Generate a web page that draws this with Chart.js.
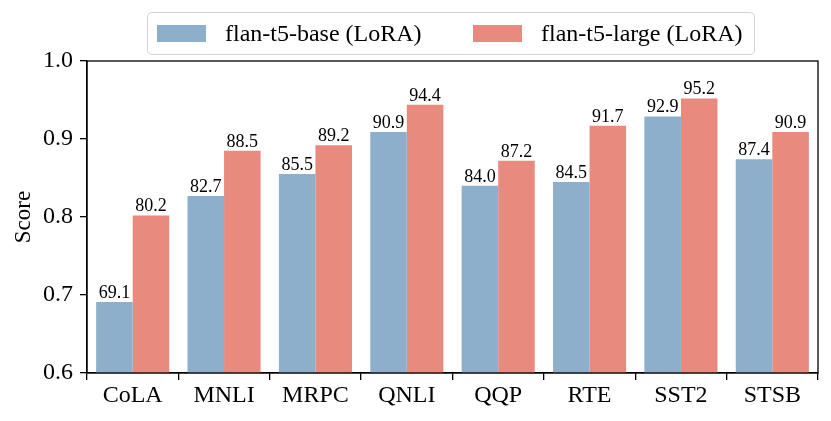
<!DOCTYPE html>
<html><head><meta charset="utf-8">
<script src="https://cdn.jsdelivr.net/npm/chart.js@4/dist/chart.umd.min.js"></script>
<style>
html,body{margin:0;padding:0;background:#fff;}
#wrap{position:relative;width:831px;height:421px;}
#legend{position:absolute;left:147px;top:12px;width:608px;height:43px;border:1.5px solid #d5d5d5;border-radius:5px;box-sizing:border-box;font-family:"Liberation Serif","Times New Roman",serif;font-size:24px;color:#000;}
.item{position:absolute;top:0;height:100%;display:flex;align-items:center;}
.sw{width:49px;height:17px;margin-right:19px;}
</style></head>
<body><div id="wrap"><canvas id="c" width="831" height="421"></canvas>
<div id="legend"></div></div>
<script>
const categories = ["CoLA","MNLI","MRPC","QNLI","QQP","RTE","SST2","STSB"];
const seriesNames = ["flan-t5-base (LoRA)","flan-t5-large (LoRA)"];
const baseScores = [69.1,82.7,85.5,90.9,84.0,84.5,92.9,87.4];
const largeScores = [80.2,88.5,89.2,94.4,87.2,91.7,95.2,90.9];
const yTicks = [0.6,0.7,0.8,0.9,1.0];
const colors = ["#8EAFCB","#E88A7E"];
const FONT = "'Liberation Serif','Times New Roman',serif";

// legend (HTML)
const lg = document.getElementById('legend');
const lpos = [9, 325];
seriesNames.forEach((n,i)=>{
  const d=document.createElement('div');d.className='item';d.style.left=lpos[i]+'px';
  const s=document.createElement('div');s.className='sw';s.style.background=colors[i];
  const t=document.createElement('span');t.textContent=n;
  d.appendChild(s);d.appendChild(t);lg.appendChild(d);
});

const frame = {id:'frame',afterDraw(ch){
  const a=ch.chartArea,c=ch.ctx;c.save();c.strokeStyle='#000';c.lineWidth=1.3;
  c.strokeRect(a.left,a.top,a.right-a.left,a.bottom-a.top);c.restore();
}};
const labels = {id:'labels',afterDatasetsDraw(ch){
  const c=ch.ctx;c.save();c.font="18px "+FONT;c.fillStyle='#000';c.textAlign='center';c.textBaseline='alphabetic';
  ch.data.datasets.forEach((ds,i)=>{
    ch.getDatasetMeta(i).data.forEach((el,j)=>{
      c.fillText(ds.raw[j].toFixed(1), el.x, el.y-4);
    });
  });
  c.restore();
}};

new Chart(document.getElementById('c'),{
  type:'bar',
  data:{labels:categories,datasets:[
    {label:seriesNames[0],raw:baseScores,data:baseScores.map(v=>v/100),backgroundColor:colors[0],categoryPercentage:0.8,barPercentage:1.0},
    {label:seriesNames[1],raw:largeScores,data:largeScores.map(v=>v/100),backgroundColor:colors[1],categoryPercentage:0.8,barPercentage:1.0}
  ]},
  options:{
    responsive:false,animation:false,
    layout:{padding:{left:0,right:13,top:61,bottom:0}},
    plugins:{legend:{display:false},tooltip:{enabled:false}},
    scales:{
      x:{
        grid:{display:true,drawOnChartArea:false,drawTicks:true,tickLength:7,color:'#000',lineWidth:1.3},
        border:{display:true,color:'#000',width:1.3},
        ticks:{font:{family:FONT,size:24},color:'#000',padding:1,maxRotation:0},
        afterFit(s){s.height=48;}
      },
      y:{
        min:0.6,max:1.0,
        afterBuildTicks(s){s.ticks=yTicks.map(v=>({value:v}));},
        grid:{display:true,drawOnChartArea:false,drawTicks:true,tickLength:7,color:'#000',lineWidth:1.3},
        border:{display:true,color:'#000',width:1.3},
        ticks:{font:{family:FONT,size:24},color:'#000',padding:7,callback:v=>Number(v).toFixed(1)},
        title:{display:true,text:'Score',font:{family:FONT,size:23},color:'#000',padding:{top:10,bottom:4}},
        afterFit(s){s.width=87;}
      }
    }
  },
  plugins:[frame,labels]
});
</script></body></html>
